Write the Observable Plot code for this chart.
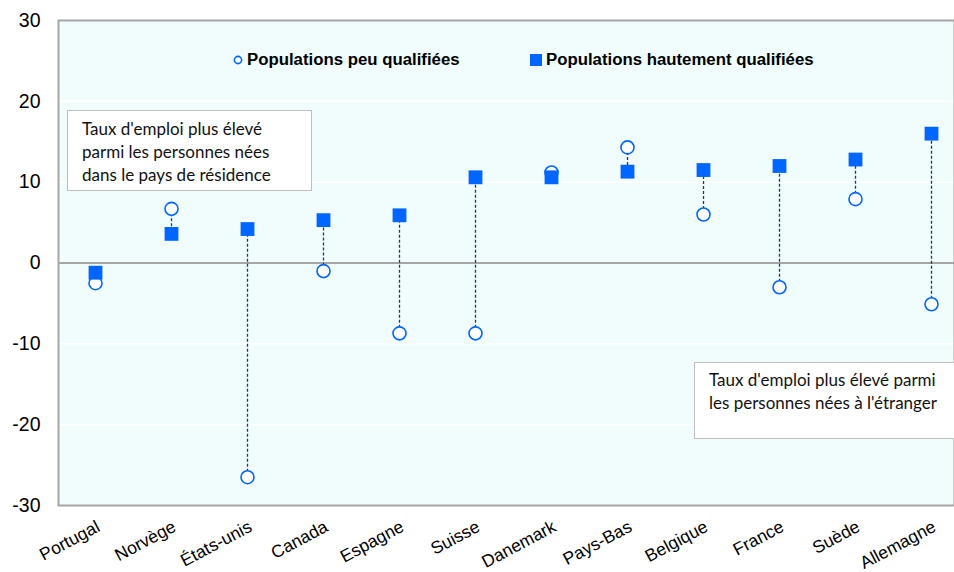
<!DOCTYPE html>
<html>
<head>
<meta charset="utf-8">
<script src="https://cdn.jsdelivr.net/npm/d3@7"></script>
<script src="https://cdn.jsdelivr.net/npm/@observablehq/plot@0.6"></script>
<style>
  html, body { margin: 0; padding: 0; background: #fff; }
  #wrap { position: relative; width: 954px; height: 572px; overflow: hidden; font-family: "Liberation Sans", Arial, sans-serif; }
  .legend { position: absolute; top: 50px; font-weight: bold; font-size: 16.8px; color: #000; display: flex; align-items: center; white-space: nowrap; }
  .legend .sym { display: inline-block; margin-right: 4px; }
  .note { position: absolute; background: #fff; border: 1.5px solid #bfbfbf; font-family: Lato, "Open Sans", sans-serif; font-size: 17px; line-height: 23px; color: #111; box-sizing: border-box; }
</style>
</head>
<body>
<div id="wrap"></div>
<script>
const countries = ["Portugal","Norvège","États-unis","Canada","Espagne","Suisse","Danemark","Pays-Bas","Belgique","France","Suède","Allemagne"];
const lowSkilled  = [-2.5, 6.7, -26.5, -1.0, -8.7, -8.7, 11.2, 14.3, 6.0, -3.0, 7.9, -5.1];
const highSkilled = [-1.2, 3.6, 4.2, 5.3, 5.9, 10.6, 10.6, 11.3, 11.5, 12.0, 12.8, 16.0];
const yTicks = [-30, -20, -10, 0, 10, 20, 30];
const seriesLabels = ["Populations peu qualifiées", "Populations hautement qualifiées"];
const noteTop = ["Taux d'emploi plus élevé", "parmi les personnes nées", "dans le pays de résidence"];
const noteBottom = ["Taux d'emploi plus élevé parmi", "les personnes nées à l'étranger"];

const data = countries.map((c, i) => ({country: c, low: lowSkilled[i], high: highSkilled[i]}));

const blue = "#0066ff";
const chart = Plot.plot({
  width: 954,
  height: 572,
  marginTop: 20,
  marginBottom: 67,
  marginLeft: 58,
  marginRight: 0,
  style: {background: "transparent", overflow: "hidden", fontFamily: "'Liberation Sans', Arial, sans-serif"},
  x: {type: "point", domain: countries, range: [90, 935], padding: 0, label: null},
  y: {domain: [-30, 30], ticks: yTicks, label: null},
  marks: [
    Plot.frame({fill: "#f1fdfd"}),
    Plot.ruleY(yTicks.filter(d => d !== 0 && Math.abs(d) !== 30), {stroke: "#ffffff", strokeWidth: 1.5}),
    Plot.ruleY([0], {stroke: "#a6a6a6", strokeWidth: 2}),
    Plot.frame({stroke: "#a6a6a6", strokeWidth: 2}),
    Plot.axisY({ticks: yTicks, tickSize: 0, tickPadding: 18, fontSize: 19.5, fill: "#000", tickFormat: d => String(d)}),
    Plot.axisX({tickSize: 0, tickRotate: -28, fontSize: 17.5, fill: "#000", tickPadding: 8, dx: 3, dy: 12}),
    Plot.ruleX(data, {x: "country", y1: "low", y2: "high", stroke: "#1f3a60", strokeWidth: 1.3, strokeDasharray: "3,2"}),
    Plot.dot(data, {x: "country", y: "low", r: 6.5, fill: "#fff", stroke: blue, strokeWidth: 1.6, symbol: "circle"}),
    Plot.dot(data, {x: "country", y: "high", r: 7.8, fill: blue, stroke: "none", symbol: "square"})
  ]
});

const wrap = document.getElementById("wrap");
wrap.appendChild(chart);

function legendItem(left, sym, label) {
  const d = document.createElement("div");
  d.className = "legend";
  d.style.left = left + "px";
  d.innerHTML = sym + `<span>${label}</span>`;
  wrap.appendChild(d);
}
legendItem(233, `<svg class="sym" width="10" height="10"><circle cx="5" cy="5" r="3.6" fill="#fff" stroke="${blue}" stroke-width="1.6"/></svg>`, seriesLabels[0]);
legendItem(530, `<svg class="sym" width="12" height="12"><rect x="0" y="0" width="12" height="12" fill="${blue}"/></svg>`, seriesLabels[1]);

function note(left, top, w, h, lines, padL, padT) {
  const d = document.createElement("div");
  d.className = "note";
  Object.assign(d.style, {left: left + "px", top: top + "px", width: w + "px", height: h + "px", padding: `${padT}px 0 0 ${padL}px`});
  d.innerHTML = lines.join("<br>");
  wrap.appendChild(d);
}
note(67, 110, 245, 81, noteTop, 14, 6);
note(694, 362, 264, 77, noteBottom, 14, 5);
</script>
</body>
</html>
